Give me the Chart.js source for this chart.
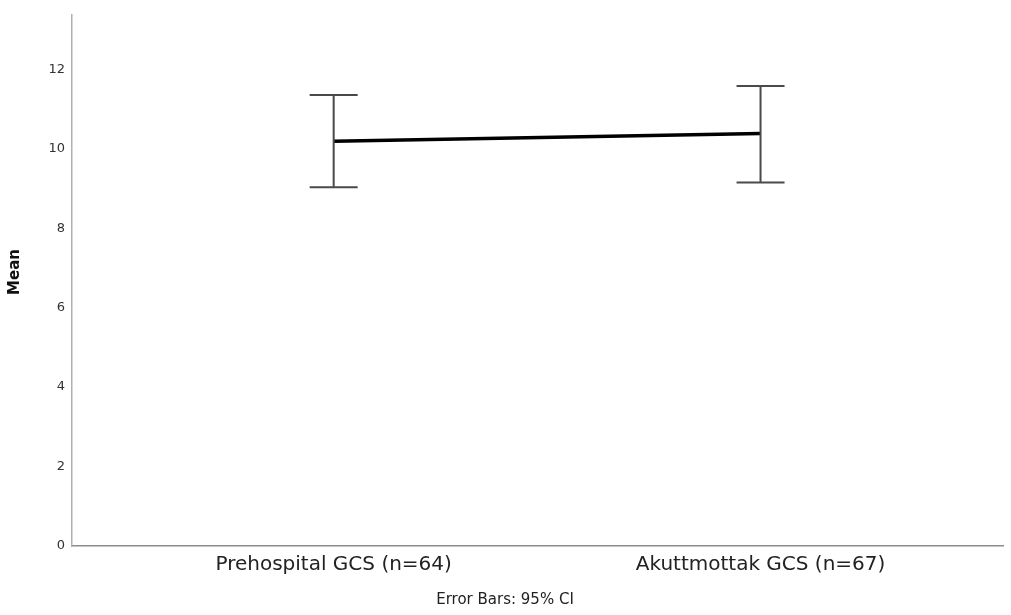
<!DOCTYPE html>
<html>
<head>
<meta charset="utf-8">
<script src="https://cdn.jsdelivr.net/npm/chart.js@4"></script>
<style>
  html, body { margin: 0; padding: 0; background: #fff; }
  #wrap { width: 1011px; height: 615px; }
</style>
</head>
<body>
<div id="wrap"><canvas id="gcsChart" width="1011" height="615"></canvas></div>
<script>
// Data
const categories = ['Prehospital GCS (n=64)', 'Akuttmottak GCS (n=67)'];
const means = [10.19, 10.38];
const ciLower = [9.03, 9.15];
const ciUpper = [11.35, 11.58];
const yTicks = [0, 2, 4, 6, 8, 10, 12];

// error bars drawn through the chart's scales, plus the two loose labels
const errorBars = {
    id: 'errorBars',
    afterDatasetsDraw(chart) {
        const ctx = chart.ctx;
        const xs = chart.scales.x, ys = chart.scales.y;
        ctx.save();
        ctx.strokeStyle = '#4a4a4a';
        ctx.lineWidth = 2;
        categories.forEach((c, i) => {
            const x = xs.getPixelForValue(i);
            const yHi = ys.getPixelForValue(ciUpper[i]);
            const yLo = ys.getPixelForValue(ciLower[i]);
            ctx.beginPath();
            ctx.moveTo(x, yHi); ctx.lineTo(x, yLo);
            ctx.moveTo(x - 24, yHi); ctx.lineTo(x + 24, yHi);
            ctx.moveTo(x - 24, yLo); ctx.lineTo(x + 24, yLo);
            ctx.stroke();
        });
        ctx.restore();
    },
    afterDraw(chart) {
        const ctx = chart.ctx;
        ctx.save();
        ctx.fillStyle = '#222';
        ctx.font = '15px "DejaVu Sans"';
        ctx.textAlign = 'center';
        ctx.textBaseline = 'middle';
        ctx.fillText('Error Bars: 95% CI', 505, 600);
        ctx.fillStyle = '#111';
        ctx.font = 'bold 15px "DejaVu Sans"';
        ctx.translate(15, 272);
        ctx.rotate(-Math.PI / 2);
        ctx.fillText('Mean', 0, 0);
        ctx.restore();
    }
};

const gcsChart = new Chart(document.getElementById('gcsChart'), {
    type: 'line',
    data: {
        datasets: [{
            label: 'Mean',
            data: means.map((m, i) => ({ x: i, y: m })),
            borderColor: '#000',
            borderWidth: 3.5,
            pointRadius: 0,
            fill: false
        }]
    },
    plugins: [errorBars],
    options: {
        responsive: false,
        animation: false,
        layout: { padding: { left: 0, right: 8, top: 11, bottom: 0 } },
        plugins: { legend: { display: false }, tooltip: { enabled: false } },
        scales: {
            x: {
                type: 'linear',
                min: -0.613,
                max: 1.568,
                afterBuildTicks: s => { s.ticks = categories.map((c, i) => ({ value: i })); },
                afterFit: s => { s.height = 69; },
                grid: { display: false, drawTicks: false },
                border: { display: true, color: '#8c8c8c', width: 1.5 },
                ticks: {
                    autoSkip: false,
                    maxRotation: 0,
                    padding: 7,
                    color: '#222',
                    font: { family: 'DejaVu Sans', size: 20 },
                    callback: v => categories[v] ?? ''
                }
            },
            y: {
                type: 'linear',
                min: 0,
                max: 13.37,
                afterBuildTicks: s => { s.ticks = yTicks.map(v => ({ value: v })); },
                afterFit: s => { s.width = 72; },
                grid: { display: false, drawTicks: false },
                border: { display: true, color: '#b0b0b0', width: 1.5 },
                ticks: {
                    padding: 7,
                    color: '#333',
                    font: { family: 'DejaVu Sans', size: 13 }
                }
            }
        }
    }
});
</script>
</body>
</html>
